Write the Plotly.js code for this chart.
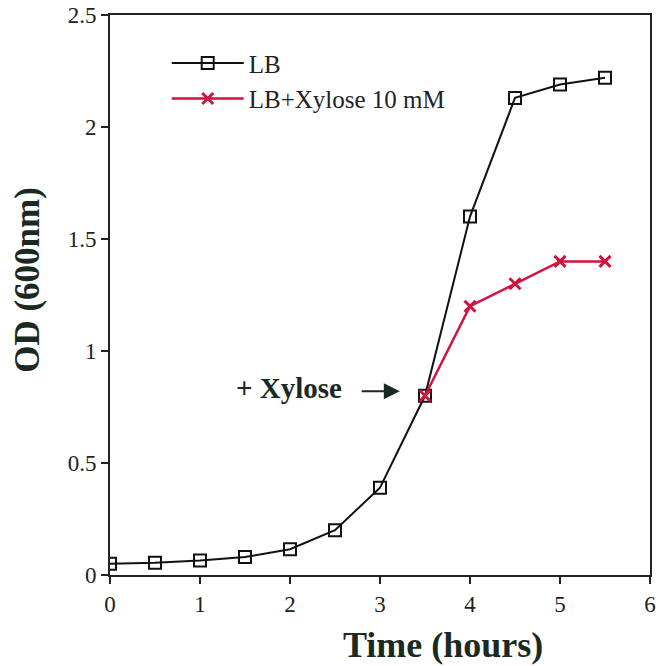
<!DOCTYPE html>
<html>
<head>
<meta charset="utf-8">
<script src="https://cdn.plot.ly/plotly-3.0.1.min.js"></script>
<style>html,body{margin:0;padding:0;background:#fff;}#chart{width:658px;height:666px;}</style>
</head>
<body>
<div id="chart"></div>
<script>
var timeLB = [0, 0.5, 1, 1.5, 2, 2.5, 3, 3.5, 4, 4.5, 5, 5.5];
var odLB = [0.05, 0.055, 0.065, 0.08, 0.115, 0.2, 0.39, 0.8, 1.6, 2.13, 2.19, 2.22];
var timeXyl = [3.5, 4, 4.5, 5, 5.5];
var odXyl = [0.8, 1.2, 1.3, 1.4, 1.4];
var seriesNames = ['LB', 'LB+Xylose 10 mM'];
var annotationText = '+ Xylose';
var xTitle = 'Time (hours)';
var yTitle = 'OD (600nm)';
var xTicks = [0, 1, 2, 3, 4, 5, 6];
var yTicks = [0, 0.5, 1, 1.5, 2, 2.5];

var serif = 'Liberation Serif, Times New Roman, serif';
var red = '#d3123f';
var dark = '#1a2a22';

var traces = [
  {x: timeLB, y: odLB, name: seriesNames[0], type: 'scatter', mode: 'lines+markers',
   line: {color: '#111', width: 2},
   marker: {symbol: 'square-open', size: 12, color: '#111', line: {width: 2, color: '#111'}}},
  {x: timeXyl, y: odXyl, name: seriesNames[1], type: 'scatter', mode: 'lines+markers',
   line: {color: red, width: 2.5},
   marker: {symbol: 'x-thin-open', size: 11, color: red, line: {width: 3, color: red}}}
];

var layout = {
  width: 658, height: 666,
  margin: {l: 110, r: 8, t: 15, b: 91},
  paper_bgcolor: '#fff', plot_bgcolor: '#fff',
  font: {family: serif, size: 23, color: '#222'},
  showlegend: true,
  legend: {x: 0.105, y: 0.955, xanchor: 'left', yanchor: 'top', bgcolor: 'rgba(0,0,0,0)',
           font: {family: serif, size: 25, color: '#222'}, itemwidth: 72, tracegroupgap: 0},
  xaxis: {range: [0, 6], tickvals: xTicks, ticks: 'outside', ticklen: 7, tickwidth: 2, tickcolor: '#222',
          showline: true, linecolor: '#222', linewidth: 2, mirror: true, showgrid: false, zeroline: false,
          tickfont: {family: serif, size: 23, color: '#222'}},
  yaxis: {range: [0, 2.5], tickvals: yTicks, ticks: 'outside', ticklen: 7, tickwidth: 2, tickcolor: '#222',
          showline: true, linecolor: '#222', linewidth: 2, mirror: true, showgrid: false, zeroline: false,
          tickfont: {family: serif, size: 23, color: '#222'}},
  annotations: [
    {x: 0.617, y: -0.125, xref: 'paper', yref: 'paper', text: xTitle, showarrow: false,
     font: {family: serif, size: 36, color: dark, weight: 'bold'}, xanchor: 'center', yanchor: 'middle'},
    {x: -0.152, y: 0.527, xref: 'paper', yref: 'paper', text: yTitle, showarrow: false, textangle: -90,
     font: {family: serif, size: 35, color: dark, weight: 'bold'}, xanchor: 'center', yanchor: 'middle'},
    {x: 1.99, y: 0.835, xref: 'x', yref: 'y', text: annotationText, showarrow: false,
     font: {family: serif, size: 29, color: dark, weight: 'bold'}, xanchor: 'center', yanchor: 'middle'},
    {x: 3.22, y: 0.82, xref: 'x', yref: 'y', ax: 2.78, ay: 0.82, axref: 'x', ayref: 'y', text: '',
     showarrow: true, arrowhead: 2, arrowsize: 1.6, arrowwidth: 2, arrowcolor: dark}
  ]
};

Plotly.newPlot('chart', traces, layout, {displayModeBar: false, staticPlot: true});
</script>
</body>
</html>
